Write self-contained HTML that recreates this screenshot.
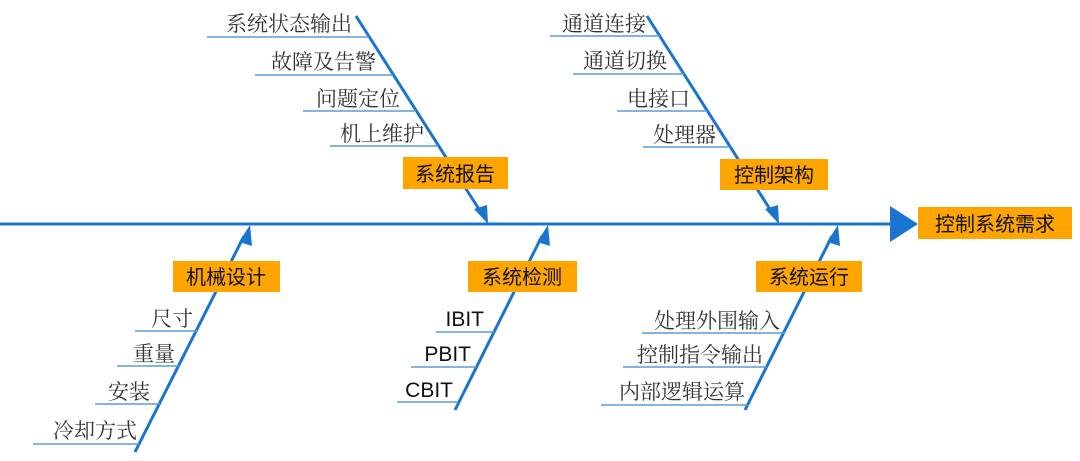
<!DOCTYPE html>
<html><head><meta charset="utf-8"><style>
html,body{margin:0;padding:0;background:#fff;width:1080px;height:461px;overflow:hidden}
svg{display:block}
.s{font-family:"Liberation Serif","Noto Serif CJK SC",serif;font-size:21px;fill:#333}
.e{font-family:"Liberation Sans","Noto Sans CJK SC",sans-serif;font-size:21px;fill:#111}
.b{font-family:"Liberation Sans","Noto Sans CJK SC",sans-serif;font-size:20px;fill:#111}
</style></head><body>
<svg width="1080" height="461" viewBox="0 0 1080 461">
<g stroke="#1a75cf" stroke-width="3" fill="none">
<line x1="0" y1="224" x2="892" y2="224"/>
<line x1="356" y1="16" x2="482" y2="214"/>
<line x1="647" y1="16" x2="773" y2="214"/>
<line x1="135" y1="452" x2="244" y2="236"/>
<line x1="455" y1="410" x2="542" y2="236"/>
<line x1="745" y1="410" x2="832" y2="236"/>
</g>
<g fill="#1a75cf">
<polygon points="890,206 918,224 890,242"/>
<polygon points="488,224 474,209 487,205"/>
<polygon points="779,224 765,209 778,205"/>
<polygon points="250,225 239,242 252,246"/>
<polygon points="548,225 537,242 550,246"/>
<polygon points="838,225 827,242 840,246"/>
</g>
<g stroke="#5b9bd5" stroke-width="1.6">
<line x1="207" y1="37" x2="369" y2="37"/>
<line x1="255" y1="75" x2="393" y2="75"/>
<line x1="303" y1="111" x2="416" y2="111"/>
<line x1="330" y1="146" x2="438" y2="146"/>
<line x1="550" y1="36" x2="660" y2="36"/>
<line x1="573" y1="74" x2="684" y2="74"/>
<line x1="617" y1="111" x2="707" y2="111"/>
<line x1="643" y1="147" x2="730" y2="147"/>
<line x1="135" y1="331" x2="197" y2="331"/>
<line x1="117" y1="366" x2="179" y2="366"/>
<line x1="95" y1="404" x2="160" y2="404"/>
<line x1="33" y1="444" x2="139" y2="444"/>
<line x1="436" y1="332" x2="494" y2="332"/>
<line x1="411" y1="367" x2="476" y2="367"/>
<line x1="397" y1="402" x2="458" y2="402"/>
<line x1="642" y1="333" x2="785" y2="333"/>
<line x1="623" y1="367" x2="767" y2="367"/>
<line x1="601" y1="405" x2="748" y2="405"/>
</g>
<g fill="#ffa500">
<rect x="918" y="207" width="154" height="32"/>
<rect x="403" y="157" width="105" height="32"/>
<rect x="720" y="159" width="108" height="31"/>
<rect x="173" y="261" width="107" height="31"/>
<rect x="468" y="261" width="109" height="31"/>
<rect x="756" y="261" width="106" height="31"/>
</g>
<g class="b">
<text x="995" y="231" text-anchor="middle">控制系统需求</text>
<text x="455" y="181" text-anchor="middle">系统报告</text>
<text x="774" y="182" text-anchor="middle">控制架构</text>
<text x="226" y="284" text-anchor="middle">机械设计</text>
<text x="522" y="284" text-anchor="middle">系统检测</text>
<text x="809" y="284" text-anchor="middle">系统运行</text>
</g>
<g class="s" text-anchor="end">
<text x="352" y="31">系统状态输出</text>
<text x="376" y="69">故障及告警</text>
<text x="400" y="106">问题定位</text>
<text x="424" y="141">机上维护</text>
<text x="646" y="31">通道连接</text>
<text x="667" y="68">通道切换</text>
<text x="690" y="106">电接口</text>
<text x="716" y="142">处理器</text>
<text x="193" y="326">尺寸</text>
<text x="175" y="361">重量</text>
<text x="150" y="399">安装</text>
<text x="137" y="438">冷却方式</text>
<text x="780" y="328">处理外围输入</text>
<text x="763" y="362">控制指令输出</text>
<text x="745" y="399">内部逻辑运算</text>
</g>
<g class="e" text-anchor="end">
<text x="484" y="326">IBIT</text>
<text x="471" y="361">PBIT</text>
<text x="453" y="397">CBIT</text>
</g>
</svg>
</body></html>
